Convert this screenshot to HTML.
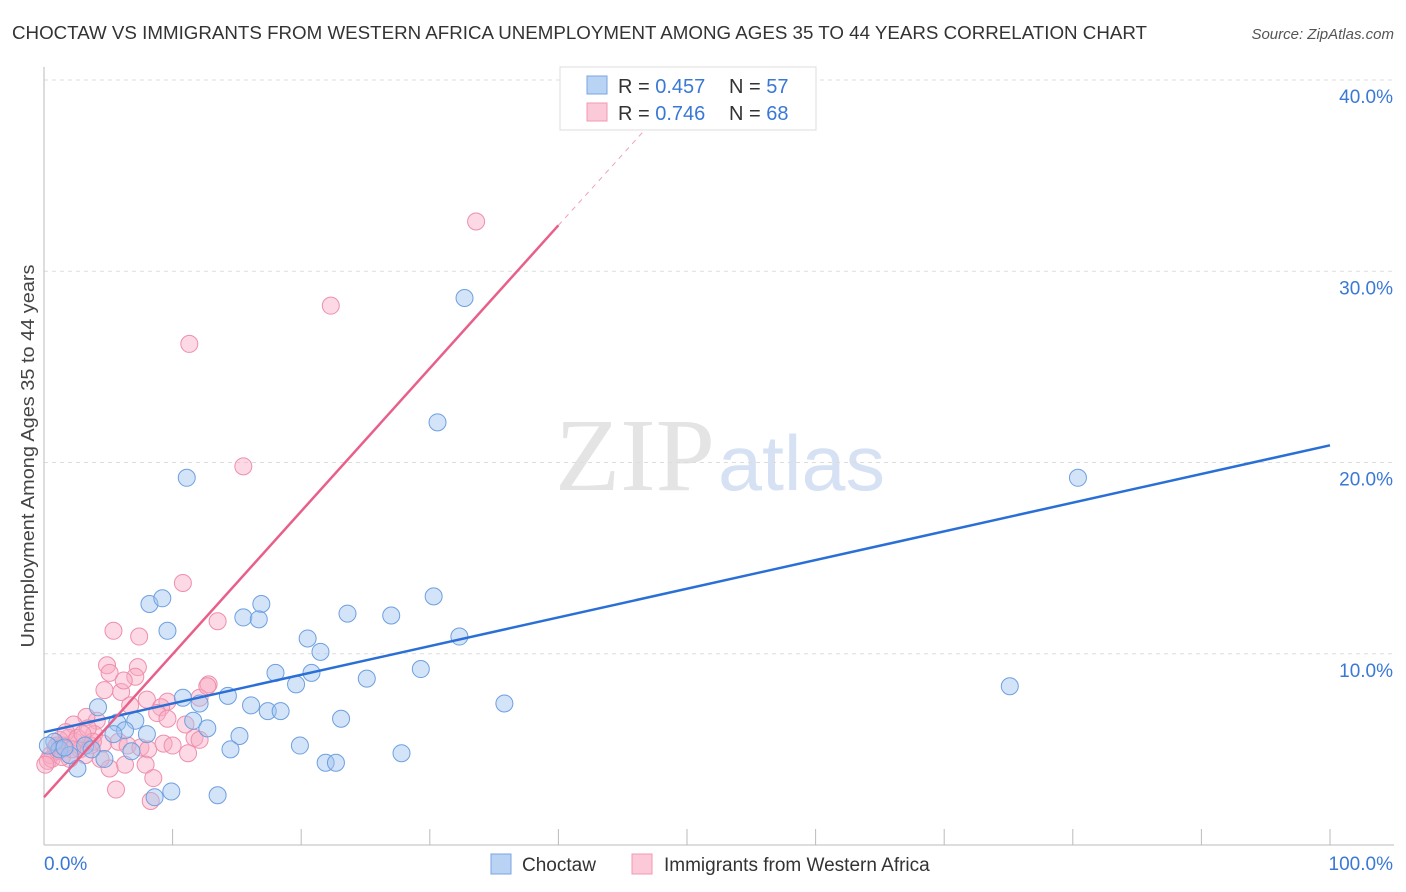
<!DOCTYPE html>
<html><head><meta charset="utf-8"><style>
body{margin:0;background:#fff;font-family:"Liberation Sans",sans-serif;}
#wrap{position:relative;width:1406px;height:892px;overflow:hidden;}
</style></head><body>
<div id="wrap">
<svg id="svg" width="1406" height="892" xmlns="http://www.w3.org/2000/svg">
<text x="12" y="39" font-size="18" fill="#333" textLength="1135" lengthAdjust="spacingAndGlyphs">CHOCTAW VS IMMIGRANTS FROM WESTERN AFRICA UNEMPLOYMENT AMONG AGES 35 TO 44 YEARS CORRELATION CHART</text>
<text x="1394" y="39" font-size="15" fill="#555" font-style="italic" text-anchor="end">Source: ZipAtlas.com</text>
<text x="555" y="490" font-size="104" fill="#e4e4e4" textLength="160" lengthAdjust="spacingAndGlyphs" font-family="Liberation Serif,serif">ZIP</text>
<text x="718" y="490" font-size="78" fill="#d6e2f4" textLength="167" lengthAdjust="spacingAndGlyphs">atlas</text>
<text transform="translate(34,456) rotate(-90)" font-size="18" fill="#444" text-anchor="middle" textLength="383" lengthAdjust="spacingAndGlyphs">Unemployment Among Ages 35 to 44 years</text>
<g id="grid"></g><g id="pts"></g><g id="lines"></g>
<g>
<rect x="560" y="67" width="256" height="63" fill="#fff" stroke="#ddd"/>
<rect x="587" y="76" width="20" height="18" fill="#b9d3f5" stroke="#7aa6e0"/>
<rect x="587" y="103" width="20" height="18" fill="#fbc9d7" stroke="#f09ab2"/>
<text x="618" y="93" font-size="20" fill="#333">R = <tspan fill="#3a78d6">0.457</tspan></text>
<text x="729" y="93" font-size="20" fill="#333">N = <tspan fill="#3a78d6">57</tspan></text>
<text x="618" y="120" font-size="20" fill="#333">R = <tspan fill="#3a78d6">0.746</tspan></text>
<text x="729" y="120" font-size="20" fill="#333">N = <tspan fill="#3a78d6">68</tspan></text>
</g>
<g>
<rect x="491" y="854" width="20" height="20" fill="#b9d3f5" stroke="#7aa6e0"/>
<text x="522" y="871" font-size="19" fill="#333">Choctaw</text>
<rect x="632" y="854" width="20" height="20" fill="#fbc9d7" stroke="#f09ab2"/>
<text x="664" y="871" font-size="19" fill="#333">Immigrants from Western Africa</text>
</g>
</svg>
</div>
<script>
const yTicks=[10,20,30,40];
const yTickLabels=["10.0%","20.0%","30.0%","40.0%"];
const xTicks=[0,10,20,30,40,50,60,70,80,90,100];
const blueX=[32.7,30.6,80.4,11.1,75.1,8.2,9.2,9.6,15.5,16.9,16.7,23.6,27,30.3,32.3,20.5,21.5,18,20.8,19.6,25.1,29.3,14.3,16.1,17.4,18.4,10.8,12.1,35.8,23.1,4.2,5.7,7.1,6.3,8,11.6,12.7,15.2,14.5,19.9,21.9,22.7,27.8,2.6,4.7,6.8,9.9,13.5,8.6,0.8,1.2,0.3,3.2,2,5.4,3.7,1.6];
const blueY=[28.6,22.1,19.2,19.2,8.3,12.6,12.9,11.2,11.9,12.6,11.8,12.1,12,13,10.9,10.8,10.1,9,9,8.4,8.7,9.2,7.8,7.3,7,7,7.7,7.4,7.4,6.6,7.2,6.4,6.5,6,5.8,6.5,6.1,5.7,5.0,5.2,4.3,4.3,4.8,4.0,4.5,4.9,2.8,2.6,2.5,5.4,5.0,5.2,5.2,4.7,5.8,5.0,5.1];
const pinkX=[33.6,22.3,11.3,15.5,10.8,13.5,5.4,7.4,4.9,7.3,5.1,7.1,4.7,6,6.2,8,9.6,9.1,8.8,12.1,12.8,12.7,9.6,11,6.7,4.1,3.3,2.3,3.9,1.9,2.4,3.6,4.6,5.8,6.5,7.5,8.1,9.3,10.0,11.2,11.7,12.1,6.3,7.9,5.1,8.5,5.6,8.3,1.2,0.9,0.5,0.3,0.6,1.1,1.5,2.8,2,3.2,0.1,4.4,1.7,2.6,3.4,3.8,1,1.4,2.2,3.0];
const pinkY=[32.6,28.2,26.2,19.8,13.7,11.7,11.2,10.9,9.4,9.3,9.0,8.8,8.1,8.0,8.6,7.6,7.5,7.2,6.9,7.7,8.4,8.3,6.6,6.3,7.3,6.5,6.7,6.3,5.8,5.6,5.4,5.2,5.3,5.4,5.2,5.1,5.0,5.3,5.2,4.8,5.6,5.5,4.2,4.2,4.0,3.5,2.9,2.3,5.5,5.1,4.7,4.4,4.5,4.9,5.2,5.0,4.5,4.7,4.2,4.5,5.9,5.6,6.1,5.4,5.2,4.6,5.0,5.8];
const blueLine=[0,5.9,100,20.9];
const pinkLine=[0,2.5,40,32.4,47,37.6];
const NS="http://www.w3.org/2000/svg";
const X0=44,X1=1330,Y0=845,Y40=80;
const xs=v=>X0+(X1-X0)*v/100;
const ys=v=>Y0-(Y0-Y40)*v/40;
function mk(t,a,p){const e=document.createElementNS(NS,t);for(const k in a)e.setAttribute(k,a[k]);p.appendChild(e);return e;}
const grid=document.getElementById('grid');
yTicks.forEach((t,i)=>{
 const l=mk('line',{x1:X0,x2:1394,y1:ys(t),y2:ys(t),stroke:'#ddd','stroke-dasharray':'4,4'},grid);
 
 
 const tx=mk('text',{x:1393,y:ys(t)+23,'font-size':19,fill:'#3a78d6','text-anchor':'end'},grid);
 tx.textContent=yTickLabels[i];
 
 
});
const ax=mk('line',{x1:X0,x2:X0,y1:67,y2:Y0,stroke:'#bbb'},grid);


const bx=mk('line',{x1:X0,x2:1394,y1:Y0,y2:Y0,stroke:'#bbb'},grid);


xTicks.forEach(t=>{
 const l=mk('line',{x1:xs(t),x2:xs(t),y1:Y0,y2:Y0-16,stroke:'#bbb'},grid);
 
 
});
const xl0=mk('text',{x:44,y:870,'font-size':19,fill:'#3a78d6'},grid);xl0.textContent='0.0%';


const xl1=mk('text',{x:1393,y:870,'font-size':19,fill:'#3a78d6','text-anchor':'end'},grid);xl1.textContent='100.0%';


const pts=document.getElementById('pts');
pinkX.forEach((x,i)=>{
 const c=mk('circle',{cx:xs(x),cy:ys(pinkY[i]),r:8.5,fill:'rgba(248,170,195,0.45)',stroke:'#ee8fac','stroke-width':1},pts);
 
 
});
blueX.forEach((x,i)=>{
 const c=mk('circle',{cx:xs(x),cy:ys(blueY[i]),r:8.5,fill:'rgba(160,195,240,0.45)',stroke:'#6d9fe0','stroke-width':1},pts);
 
 
});
const lines=document.getElementById('lines');
const bl=mk('line',{x1:xs(blueLine[0]),y1:ys(blueLine[1]),x2:xs(blueLine[2]),y2:ys(blueLine[3]),stroke:'#2a6fd6','stroke-width':2.5},lines);


const pl=mk('line',{x1:xs(pinkLine[0]),y1:ys(pinkLine[1]),x2:xs(pinkLine[2]),y2:ys(pinkLine[3]),stroke:'#e8608a','stroke-width':2.5},lines);


const pd=mk('line',{x1:xs(pinkLine[2]),y1:ys(pinkLine[3]),x2:xs(pinkLine[4]),y2:ys(pinkLine[5]),stroke:'#f0a0b8','stroke-width':1,'stroke-dasharray':'5,5'},lines);


</script>
</body></html>
